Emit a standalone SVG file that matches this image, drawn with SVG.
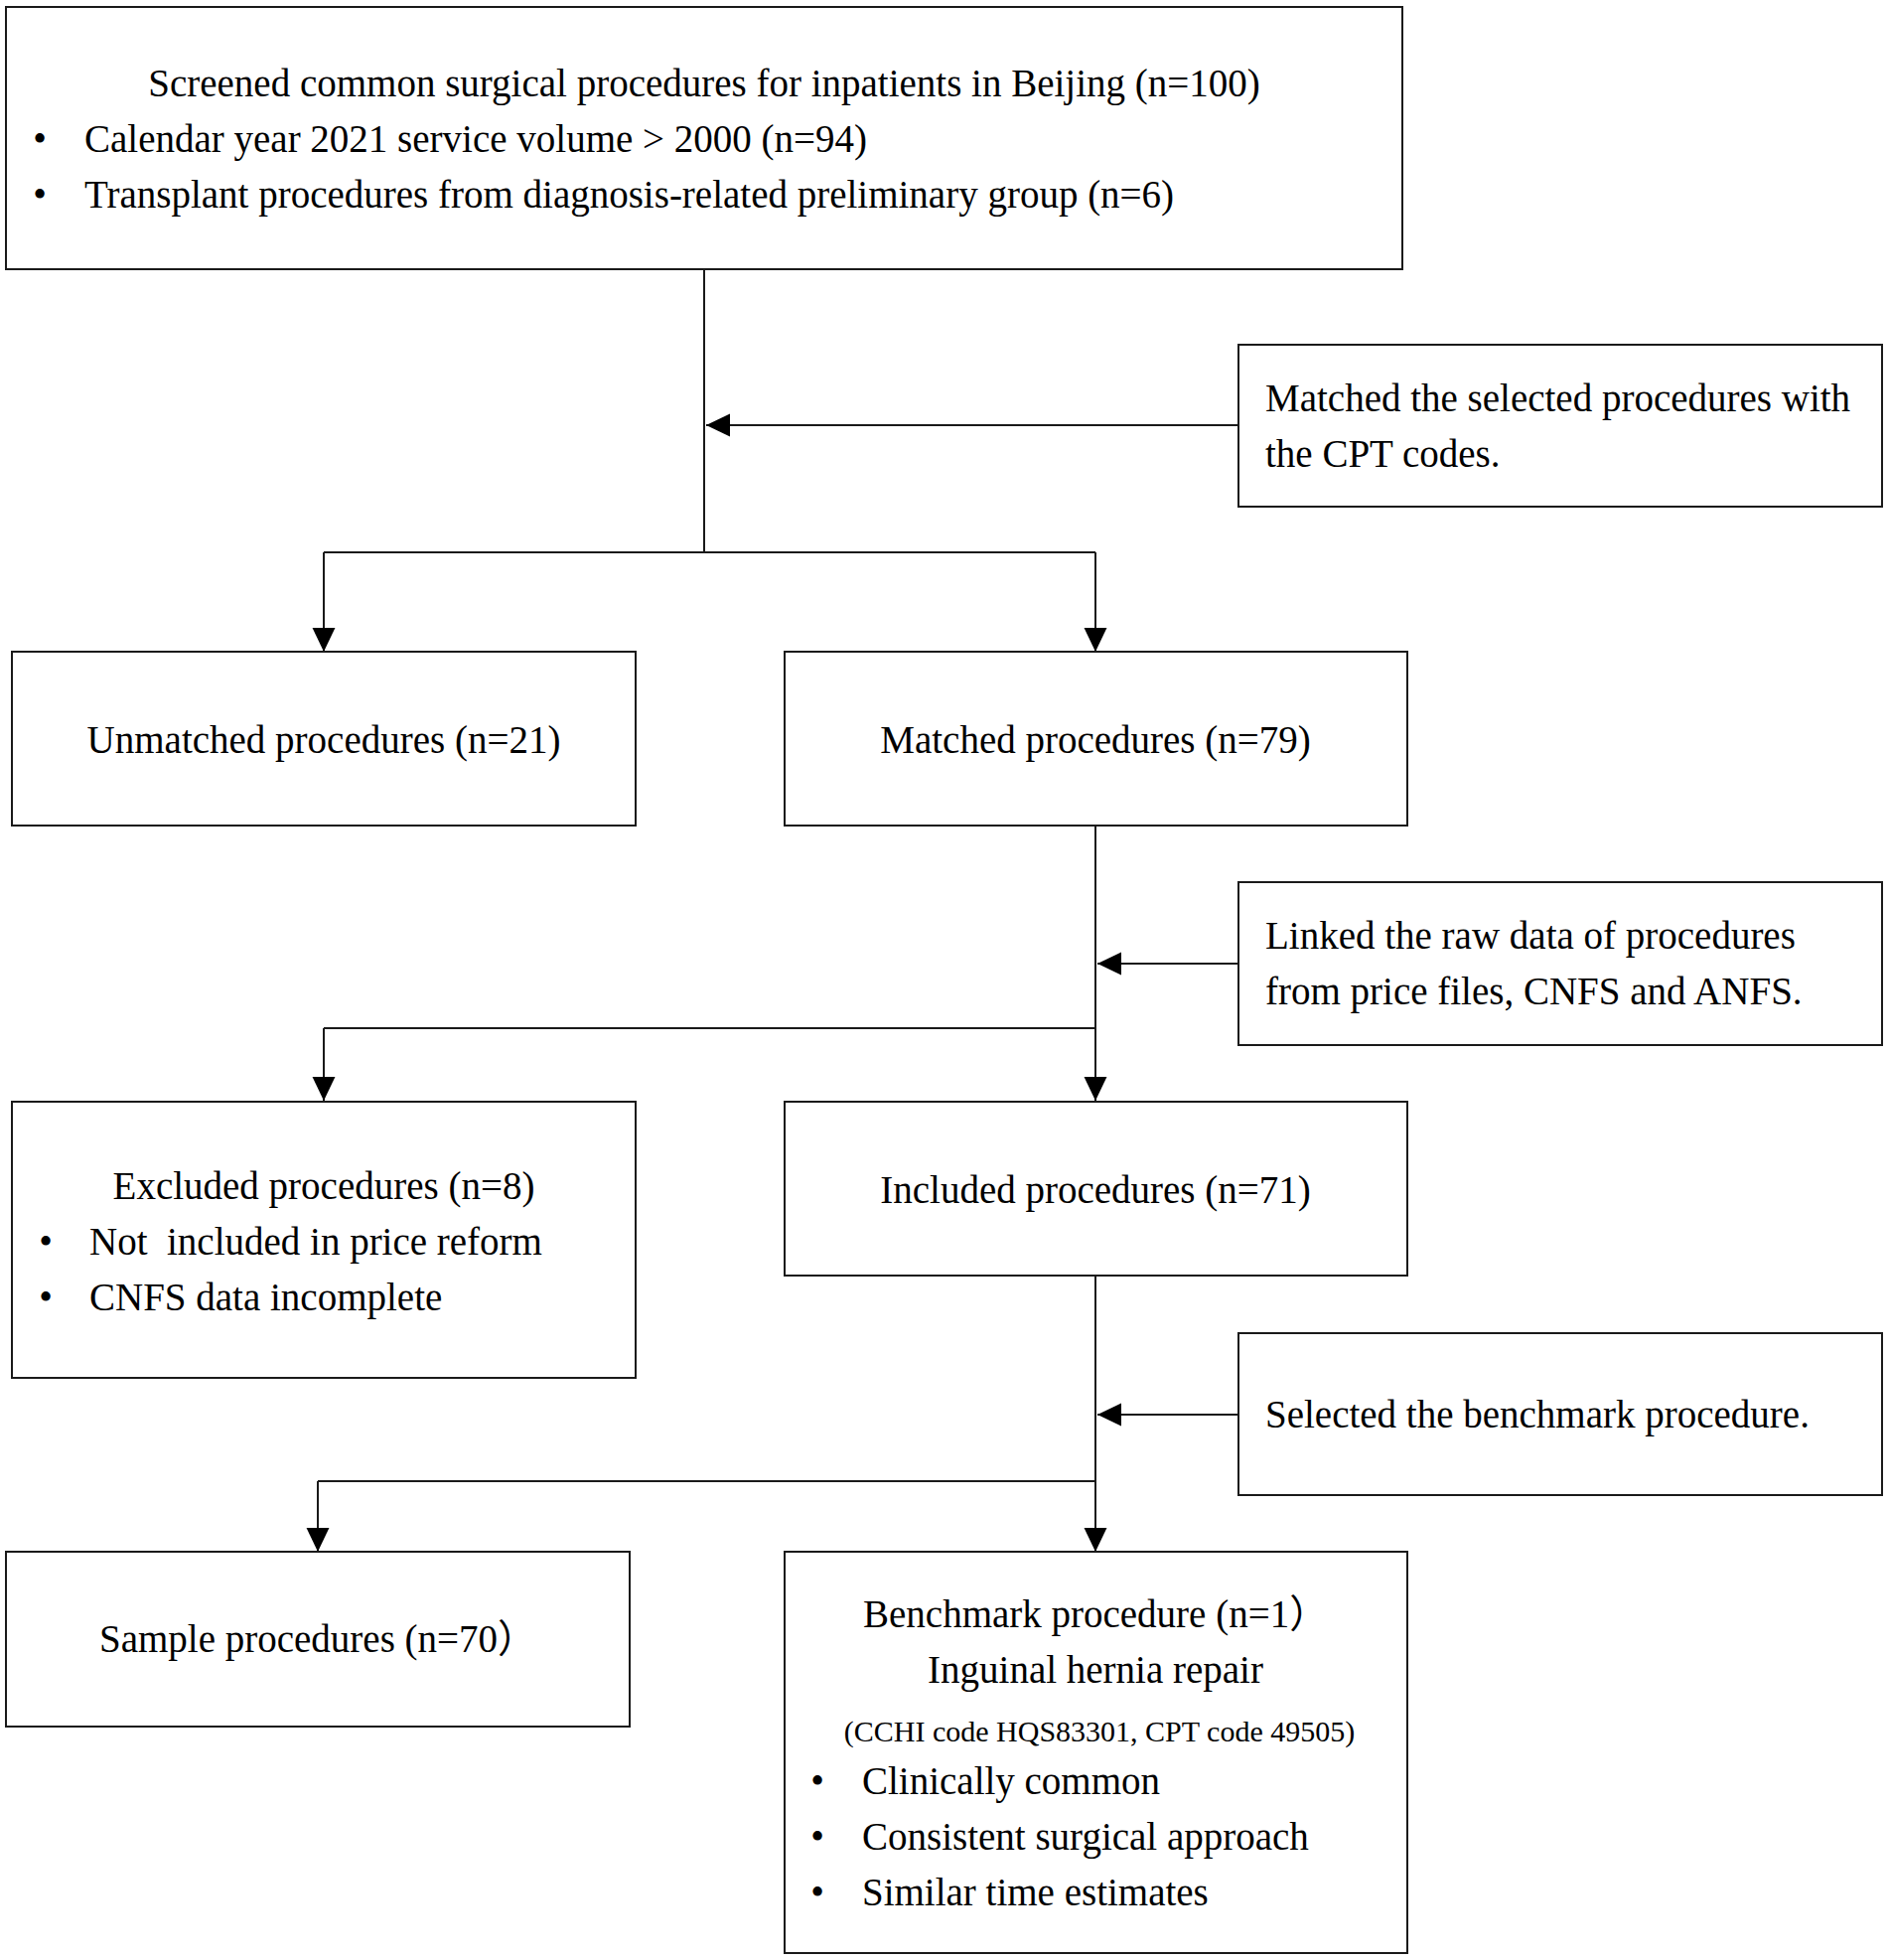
<svg xmlns="http://www.w3.org/2000/svg" width="1902" height="1973" viewBox="0 0 1902 1973">
<style>
.box{fill:#fff;stroke:#1a1a1a;stroke-width:2}
.t{font-family:'Liberation Serif','Noto Sans CJK SC',serif;font-size:39px;fill:#000}
.s{font-family:'Liberation Serif','Noto Sans CJK SC',serif;font-size:30px;fill:#000}
.c{text-anchor:middle}
.ln{fill:none;stroke:#1a1a1a;stroke-width:2}
</style>
<defs>
<marker id="ah" markerUnits="userSpaceOnUse" markerWidth="24" markerHeight="24" viewBox="0 0 22 21" refX="22" refY="10.5" orient="auto">
<path d="M0,0 L22,10.5 L0,21 Z" fill="#000"/>
</marker>
</defs>
<rect width="1902" height="1973" fill="#fff"/>
<g id="connectors">
<path class="ln" d="M709,271 V556"/>
<path class="ln" d="M326,556 H1103"/>
<path class="ln" d="M326,556 V656" marker-end="url(#ah)"/>
<path class="ln" d="M1103,556 V656" marker-end="url(#ah)"/>
<path class="ln" d="M1247,428 H711" marker-end="url(#ah)"/>
<path class="ln" d="M1103,831 V1108" marker-end="url(#ah)"/>
<path class="ln" d="M326,1035 H1103"/>
<path class="ln" d="M326,1035 V1108" marker-end="url(#ah)"/>
<path class="ln" d="M1247,970 H1105" marker-end="url(#ah)"/>
<path class="ln" d="M1103,1284 V1562" marker-end="url(#ah)"/>
<path class="ln" d="M320,1491 H1103"/>
<path class="ln" d="M320,1491 V1562" marker-end="url(#ah)"/>
<path class="ln" d="M1247,1424 H1105" marker-end="url(#ah)"/>
</g>
<g id="screened">
<rect class="box" x="6" y="7" width="1406" height="264"/>
<text class="t c" x="709" y="97">Screened common surgical procedures for inpatients in Beijing (n=100)</text>
<text class="t c" x="40" y="153">•</text>
<text class="t" x="85" y="153">Calendar year 2021 service volume &gt; 2000 (n=94)</text>
<text class="t c" x="40" y="209">•</text>
<text class="t" x="85" y="209">Transplant procedures from diagnosis-related preliminary group (n=6)</text>
</g>
<g id="match-step">
<rect class="box" x="1247" y="347" width="648" height="163"/>
<text class="t" x="1274" y="414">Matched the selected procedures with</text>
<text class="t" x="1274" y="470">the CPT codes.</text>
</g>
<g id="unmatched">
<rect class="box" x="12" y="656" width="628" height="175"/>
<text class="t c" x="326" y="758">Unmatched procedures (n=21)</text>
</g>
<g id="matched">
<rect class="box" x="790" y="656" width="627" height="175"/>
<text class="t c" x="1103" y="758">Matched procedures (n=79)</text>
</g>
<g id="link-step">
<rect class="box" x="1247" y="888" width="648" height="164"/>
<text class="t" x="1274" y="955">Linked the raw data of procedures</text>
<text class="t" x="1274" y="1011">from price files, CNFS and ANFS.</text>
</g>
<g id="excluded">
<rect class="box" x="12" y="1109" width="628" height="278"/>
<text class="t c" x="326" y="1207">Excluded procedures (n=8)</text>
<text class="t c" x="46" y="1263">•</text>
<text class="t" x="90" y="1263" xml:space="preserve">Not  included in price reform</text>
<text class="t c" x="46" y="1319">•</text>
<text class="t" x="90" y="1319">CNFS data incomplete</text>
</g>
<g id="included">
<rect class="box" x="790" y="1109" width="627" height="175"/>
<text class="t c" x="1103" y="1211">Included procedures (n=71)</text>
</g>
<g id="select-step">
<rect class="box" x="1247" y="1342" width="648" height="163"/>
<text class="t" x="1274" y="1437">Selected the benchmark procedure.</text>
</g>
<g id="sample">
<rect class="box" x="6" y="1562" width="628" height="176"/>
<text class="t" x="100" y="1663">Sample procedures (n=70）</text>
</g>
<g id="benchmark">
<rect class="box" x="790" y="1562" width="627" height="404"/>
<text class="t" x="869" y="1638">Benchmark procedure (n=1）</text>
<text class="t c" x="1103" y="1694">Inguinal hernia repair</text>
<text class="s c" x="1107" y="1753">(CCHI code HQS83301, CPT code 49505)</text>
<text class="t c" x="823" y="1806">•</text>
<text class="t" x="868" y="1806">Clinically common</text>
<text class="t c" x="823" y="1862">•</text>
<text class="t" x="868" y="1862">Consistent surgical approach</text>
<text class="t c" x="823" y="1918">•</text>
<text class="t" x="868" y="1918">Similar time estimates</text>
</g>
</svg>
